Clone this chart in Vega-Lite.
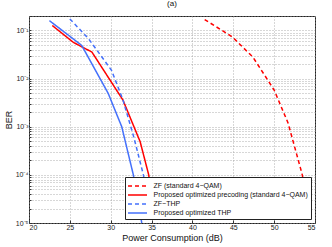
{
  "$schema": "https://vega.github.io/schema/vega-lite/v6.json",
  "width": 286,
  "height": 207,
  "autosize": {"type": "none"},
  "padding": {"left": 29, "top": 16, "right": 17, "bottom": 24},
  "background": "white",
  "config": {
    "font": "Liberation Sans",
    "view": {"stroke": "#222222", "strokeWidth": 1}
  },
  "title": {"text": "(a)", "fontSize": 8, "fontWeight": "normal", "offset": 4, "color": "#111111", "anchor": "middle"},
  "data": {
    "values": [
      {"s": "ZF (standard 4−QAM)", "x": 41.5, "y": 0.169},
      {"s": "ZF (standard 4−QAM)", "x": 44.9, "y": 0.073},
      {"s": "ZF (standard 4−QAM)", "x": 47.4, "y": 0.028},
      {"s": "ZF (standard 4−QAM)", "x": 50.0, "y": 0.0058},
      {"s": "ZF (standard 4−QAM)", "x": 51.7, "y": 0.0012},
      {"s": "ZF (standard 4−QAM)", "x": 53.4, "y": 0.000107},
      {"s": "ZF (standard 4−QAM)", "x": 54.5, "y": 0.000015},
      {"s": "Proposed optimized precoding (standard 4−QAM)", "x": 22.85, "y": 0.127},
      {"s": "Proposed optimized precoding (standard 4−QAM)", "x": 25.4, "y": 0.057},
      {"s": "Proposed optimized precoding (standard 4−QAM)", "x": 27.7, "y": 0.0356},
      {"s": "Proposed optimized precoding (standard 4−QAM)", "x": 31.5, "y": 0.00358},
      {"s": "Proposed optimized precoding (standard 4−QAM)", "x": 32.6, "y": 0.00126},
      {"s": "Proposed optimized precoding (standard 4−QAM)", "x": 33.6, "y": 0.00049},
      {"s": "Proposed optimized precoding (standard 4−QAM)", "x": 34.65, "y": 0.0001},
      {"s": "Proposed optimized precoding (standard 4−QAM)", "x": 35.4, "y": 0.000012},
      {"s": "ZF−THP", "x": 25.0, "y": 0.174},
      {"s": "ZF−THP", "x": 27.3, "y": 0.067},
      {"s": "ZF−THP", "x": 30.1, "y": 0.0149},
      {"s": "ZF−THP", "x": 31.5, "y": 0.0036},
      {"s": "ZF−THP", "x": 32.8, "y": 0.00063},
      {"s": "ZF−THP", "x": 34.0, "y": 0.0001},
      {"s": "ZF−THP", "x": 34.9, "y": 0.000015},
      {"s": "Proposed optimized THP", "x": 22.5, "y": 0.16},
      {"s": "Proposed optimized THP", "x": 26.45, "y": 0.049},
      {"s": "Proposed optimized THP", "x": 29.7, "y": 0.0049},
      {"s": "Proposed optimized THP", "x": 31.35, "y": 0.001},
      {"s": "Proposed optimized THP", "x": 32.77, "y": 0.0001},
      {"s": "Proposed optimized THP", "x": 33.8, "y": 0.00001}
    ]
  },
  "mark": {"type": "line", "clip": true, "strokeWidth": 1.5},
  "encoding": {
    "x": {
      "field": "x", "type": "quantitative",
      "scale": {"domain": [20, 55], "nice": false},
      "axis": {
        "title": "Power Consumption (dB)", "titleFontSize": 9, "titleFontWeight": "normal", "titlePadding": 3, "titleColor": "#111111",
        "values": [20, 25, 30, 35, 40, 45, 50, 55],
        "labelFontSize": 7, "labelColor": "#222222", "labelPadding": 3,
        "ticks": true, "tickSize": -3, "tickColor": "#333333",
        "domain": false,
        "grid": true, "gridDash": [1, 2], "gridColor": "#9a9a9a", "gridWidth": 0.8
      }
    },
    "y": {
      "field": "y", "type": "quantitative",
      "scale": {"type": "log", "domain": [0.00001, 0.2], "nice": false},
      "axis": {
        "title": "BER", "titleFontSize": 9, "titleFontWeight": "normal", "titlePadding": 2, "titleColor": "#111111",
        "values": [0.00001, 0.00002, 0.00003, 0.00004, 0.00005, 0.00006, 0.00007, 0.00008, 0.00009,
                   0.0001, 0.0002, 0.0003, 0.0004, 0.0005, 0.0006, 0.0007, 0.0008, 0.0009,
                   0.001, 0.002, 0.003, 0.004, 0.005, 0.006, 0.007, 0.008, 0.009,
                   0.01, 0.02, 0.03, 0.04, 0.05, 0.06, 0.07, 0.08, 0.09,
                   0.1, 0.2],
        "labelExpr": "abs(log(datum.value)/LN10 - round(log(datum.value)/LN10)) < 0.001 ? ('10' + (round(log(datum.value)/LN10) == -1 ? '⁻¹' : round(log(datum.value)/LN10) == -2 ? '⁻²' : round(log(datum.value)/LN10) == -3 ? '⁻³' : round(log(datum.value)/LN10) == -4 ? '⁻⁴' : '⁻⁵')) : ''",
        "labelOverlap": false,
        "labelFontSize": 7, "labelColor": "#222222", "labelPadding": 3,
        "ticks": true, "tickSize": -2, "tickColor": "#333333",
        "domain": false,
        "grid": true, "gridDash": [1, 2], "gridColor": "#9a9a9a", "gridWidth": 0.8
      }
    },
    "color": {
      "field": "s", "type": "nominal",
      "scale": {
        "domain": ["ZF (standard 4−QAM)", "Proposed optimized precoding (standard 4−QAM)", "ZF−THP", "Proposed optimized THP"],
        "range": ["#ff0000", "#ff0000", "#4470fb", "#4470fb"]
      },
      "legend": {
        "title": null, "orient": "none", "legendX": 96, "legendY": 161,
        "symbolType": "M-1.9,0H1.9", "symbolSize": 100, "symbolStrokeWidth": 1.5, "symbolOffset": 3.5,
        "labelFontSize": 7, "labelColor": "#111111", "labelOffset": 10, "labelLimit": 300,
        "rowPadding": 0, "padding": 3,
        "fillColor": "white", "strokeColor": "#222222"
      }
    },
    "strokeDash": {
      "field": "s", "type": "nominal",
      "scale": {
        "domain": ["ZF (standard 4−QAM)", "Proposed optimized precoding (standard 4−QAM)", "ZF−THP", "Proposed optimized THP"],
        "range": [[4, 3], [1, 0], [4, 3], [1, 0]]
      }
    }
  }
}
